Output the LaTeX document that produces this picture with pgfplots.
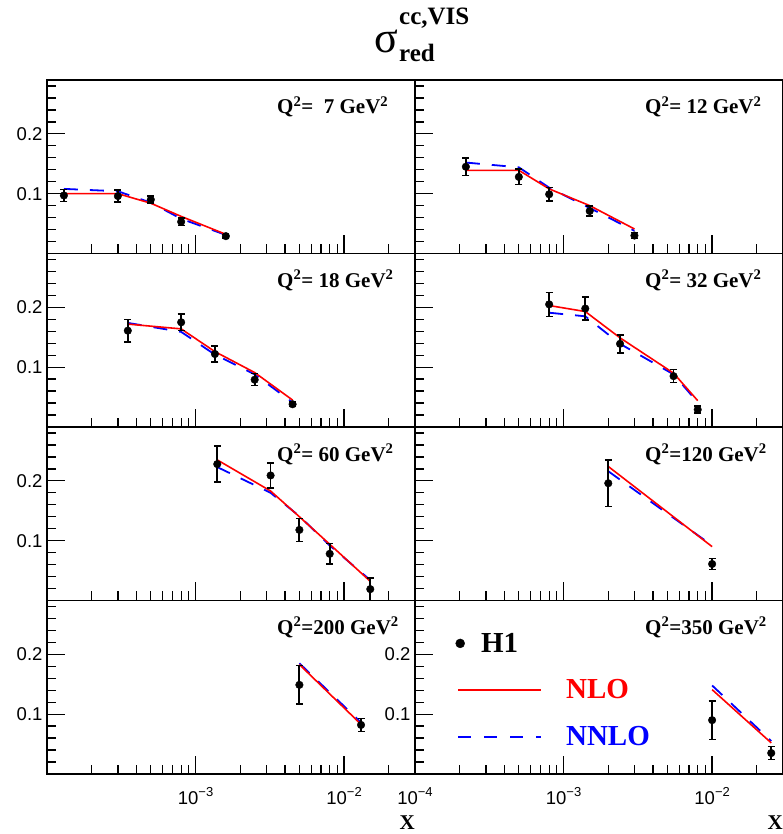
\documentclass[border=0pt]{standalone}
\usepackage{fontspec}
\setmainfont{Liberation Serif}
\newfontfamily\sansf{Liberation Sans}
\usepackage{pgfplots}
\pgfplotsset{compat=1.18}

\newcommand{\tkf}{\sansf\fontsize{18.5}{18.5}\selectfont}
\newcommand{\dec}[1]{10\raisebox{0.45em}{\fontsize{13}{13}\selectfont −#1}}
\newcommand{\qlab}[1]{\node[anchor=base west, inner sep=0pt, font=\bfseries\fontsize{21}{21}\selectfont] at (rel axis cs:0.625,0.804) {Q\textsuperscript{2}=#1 GeV\textsuperscript{2}};}

\pgfplotsset{
  every axis/.append style={
    xmode=log, xmin=1e-4, xmax=0.03, ymin=0, ymax=0.29,
    scale only axis, width=368pt, height=173.5pt,
    axis line style={line width=1.6pt},
    xtick={1e-4,1e-3,1e-2},
    minor xtick={2e-4,3e-4,4e-4,5e-4,6e-4,7e-4,8e-4,9e-4,2e-3,3e-3,4e-3,5e-3,6e-3,7e-3,8e-3,9e-3,2e-2,3e-2},
    ytick={0.1,0.2},
    minor ytick={0.02,0.04,0.06,0.08,0.12,0.14,0.16,0.18,0.22,0.24,0.26,0.28},
    tick align=inside, xtick pos=bottom, ytick pos=left,
    major tick length=18pt, minor tick length=9pt,
    tick style={black, line width=1.3pt},
    tick label style={font=\tkf},
    yticklabel style={xshift=-1pt},
    xticklabel style={anchor=center, yshift=-22pt},
    xlabel style={at={(axis description cs:1,-0.317)}, anchor=base east, inner sep=0pt, font=\bfseries\fontsize{21}{21}\selectfont},
  },
  h1/.style={only marks, mark=*, mark size=3.8pt, black,
    error bars/y dir=both, error bars/y explicit,
    error bars/error bar style={line width=1.8pt, black},
    error bars/error mark options={rotate=90, mark size=3.5pt, line width=1.5pt, black}},
  nlo/.style={red, line width=1.6pt, no marks},
  nnlo/.style={blue, line width=1.8pt, dash pattern=on 14pt off 12pt, no marks},
  legmark/.style={legend image code/.code={\draw[##1] plot coordinates {(2pt,0pt)};}},
  legline/.style={legend image code/.code={\draw[##1] (0pt,0pt) -- (83pt,0pt);}},
}

\begin{document}
\begin{tikzpicture}
\useasboundingbox (0,0) rectangle (783pt,834pt);

% title
\node[anchor=base, inner sep=0pt, font=\fontsize{44}{44}\selectfont] at (386pt,781pt) {σ};
\node[anchor=base west, inner sep=0pt, font=\bfseries\fontsize{25}{25}\selectfont] at (399pt,809pt) {cc,VIS};
\node[anchor=base west, inner sep=0pt, font=\bfseries\fontsize{25}{25}\selectfont] at (399pt,772pt) {red};

% Row 1 left: Q2=7
\begin{axis}[at={(47pt,580.5pt)}, xticklabels={,,}, yticklabels={0.1,0.2}]
\addplot[nnlo, forget plot] coordinates {(1.3e-4,0.108) (3e-4,0.104) (5e-4,0.085) (8e-4,0.058) (1.6e-3,0.031)};
\addplot[nlo, forget plot] coordinates {(1.3e-4,0.100) (3e-4,0.100) (5e-4,0.084) (8e-4,0.062) (1.6e-3,0.032)};
\addplot[h1, forget plot] coordinates {(1.3e-4,0.097) +- (0,0.010) (3e-4,0.096) +- (0,0.010) (5e-4,0.090) +- (0,0.006) (8e-4,0.053) +- (0,0.006) (1.6e-3,0.029) +- (0,0.003)};
\qlab{\ \ 7}
\end{axis}

% Row 1 right: Q2=12
\begin{axis}[at={(415pt,580.5pt)}, xticklabels={,,}, yticklabels={,}]
\addplot[nnlo, forget plot] coordinates {(2.2e-4,0.152) (5e-4,0.144) (8e-4,0.110) (1.5e-3,0.076) (3e-3,0.038)};
\addplot[nlo, forget plot] coordinates {(2.2e-4,0.139) (5e-4,0.139) (8e-4,0.108) (1.5e-3,0.080) (3e-3,0.041)};
\addplot[h1, forget plot] coordinates {(2.2e-4,0.145) +- (0,0.015) (5e-4,0.128) +- (0,0.013) (8e-4,0.099) +- (0,0.011) (1.5e-3,0.071) +- (0,0.008) (3e-3,0.030) +- (0,0.005)};
\qlab{ 12}
\end{axis}

% Row 2 left: Q2=18
\begin{axis}[at={(47pt,407pt)}, xticklabels={,,}, yticklabels={0.1,0.2}]
\addplot[nnlo, forget plot] coordinates {(3.5e-4,0.174) (8e-4,0.159) (1.35e-3,0.121) (2.5e-3,0.088) (4.5e-3,0.041)};
\addplot[nlo, forget plot] coordinates {(3.5e-4,0.172) (8e-4,0.164) (1.35e-3,0.126) (2.5e-3,0.091) (4.5e-3,0.045)};
\addplot[h1, forget plot] coordinates {(3.5e-4,0.161) +- (0,0.019) (8e-4,0.175) +- (0,0.014) (1.35e-3,0.122) +- (0,0.013) (2.5e-3,0.079) +- (0,0.010) (4.5e-3,0.038) +- (0,0.004)};
\qlab{ 18}
\end{axis}

% Row 2 right: Q2=32
\begin{axis}[at={(415pt,407pt)}, xticklabels={,,}, yticklabels={,}]
\addplot[nnlo, forget plot] coordinates {(8e-4,0.191) (1.4e-3,0.185) (2.4e-3,0.139) (5.5e-3,0.088) (8e-3,0.041)};
\addplot[nlo, forget plot] coordinates {(8e-4,0.203) (1.4e-3,0.193) (2.4e-3,0.149) (5.5e-3,0.090) (8e-3,0.044)};
\addplot[h1, forget plot] coordinates {(8e-4,0.205) +- (0,0.020) (1.4e-3,0.198) +- (0,0.019) (2.4e-3,0.139) +- (0,0.015) (5.5e-3,0.085) +- (0,0.011) (8e-3,0.029) +- (0,0.006)};
\qlab{ 32}
\end{axis}

% Row 3 left: Q2=60
\begin{axis}[at={(47pt,233.5pt)}, xticklabels={,,}, yticklabels={0.1,0.2}]
\addplot[nnlo, forget plot] coordinates {(1.4e-3,0.223) (3.2e-3,0.180) (5e-3,0.141) (8e-3,0.092) (1.5e-2,0.034)};
\addplot[nlo, forget plot] coordinates {(1.4e-3,0.235) (3.2e-3,0.183) (5e-3,0.140) (8e-3,0.094) (1.5e-2,0.032)};
\addplot[h1, forget plot] coordinates {(1.4e-3,0.228) +- (0,0.030) (3.2e-3,0.209) +- (0,0.021) (5e-3,0.118) +- (0,0.019) (8e-3,0.078) +- (0,0.017) (1.5e-2,0.019) +- (0,0.019)};
\qlab{ 60}
\end{axis}

% Row 3 right: Q2=120
\begin{axis}[at={(415pt,233.5pt)}, xticklabels={,,}, yticklabels={,}]
\addplot[nnlo, forget plot] coordinates {(2e-3,0.216) (1e-2,0.092)};
\addplot[nlo, forget plot] coordinates {(2e-3,0.224) (1e-2,0.090)};
\addplot[h1, forget plot] coordinates {(2e-3,0.196) +- (0,0.039) (1e-2,0.061) +- (0,0.009)};
\qlab{120}
\end{axis}

% Row 4 left: Q2=200
\begin{axis}[at={(47pt,60pt)}, xticklabels={,\dec{3},\dec{2}}, yticklabels={0.1,0.2}, xlabel={X}]
\addplot[nnlo, forget plot] coordinates {(5e-3,0.185) (1.3e-2,0.086)};
\addplot[nlo, forget plot] coordinates {(5e-3,0.183) (1.3e-2,0.083)};
\addplot[h1, forget plot] coordinates {(5e-3,0.149) +- (0,0.032) (1.3e-2,0.082) +- (0,0.011)};
\qlab{200}
\end{axis}

% Row 4 right: Q2=350
\begin{axis}[at={(415pt,60pt)}, xticklabels={\dec{4},\dec{3},\dec{2}}, yticklabels={0.1,0.2}, xlabel={X},
  legend style={draw=none, fill=none, at={(axis description cs:0.1106,0.818)}, anchor=north west,
    inner sep=0pt, outer sep=0pt, nodes={inner sep=1pt},
    row sep=24pt, column sep=23pt, font=\bfseries\fontsize{29}{29}\selectfont},
  legend cell align=left]
\addlegendimage{only marks, mark=*, mark size=4.5pt, black, legmark}
\addlegendentry{\rlap{\hspace{-85pt}H1}}
\addlegendimage{red, line width=1.6pt, legline}
\addlegendentry{\textcolor{red}{NLO}}
\addlegendimage{blue, line width=1.8pt, dash pattern=on 13pt off 13pt, legline}
\addlegendentry{\textcolor{blue}{NNLO}}
\addplot[nnlo, forget plot] coordinates {(1e-2,0.148) (2.5e-2,0.055)};
\addplot[nlo, forget plot] coordinates {(1e-2,0.141) (2.5e-2,0.052)};
\addplot[h1, forget plot] coordinates {(1e-2,0.090) +- (0,0.032) (2.5e-2,0.035) +- (0,0.011)};
\qlab{350}
\end{axis}
\end{tikzpicture}
\end{document}
